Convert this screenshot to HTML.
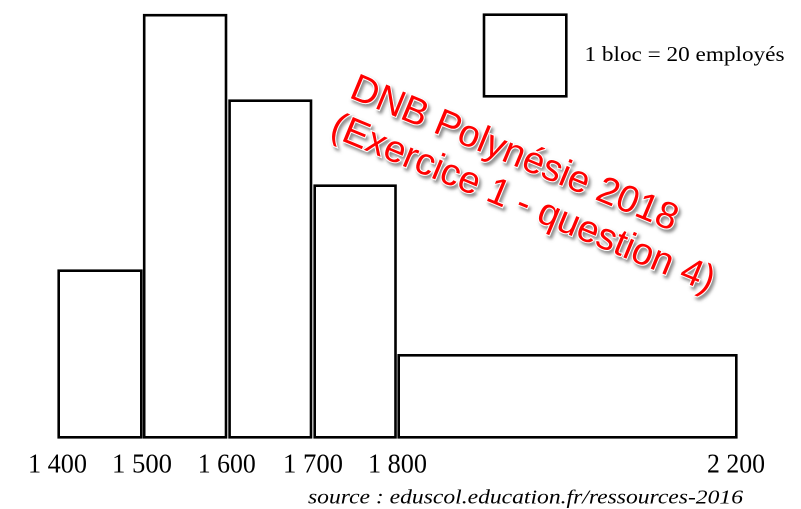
<!DOCTYPE html>
<html>
<head>
<meta charset="utf-8">
<style>
  html, body { margin: 0; padding: 0; background: #fff; }
  body { width: 801px; height: 509px; overflow: hidden; }
  svg { display: block; }
</style>
</head>
<body>
<svg width="801" height="509" viewBox="0 0 801 509" xmlns="http://www.w3.org/2000/svg">
  <defs>
    <filter id="sh" x="-10%" y="-30%" width="130%" height="170%">
      <feDropShadow dx="2" dy="3" stdDeviation="1.6" flood-color="#777" flood-opacity="0.85"/>
    </filter>
  </defs>
  <rect width="801" height="509" fill="#fff"/>
  <g fill="none" stroke="#000" stroke-width="2.6">
    <rect x="58.7" y="270.7" width="82.6" height="166.6"/>
    <rect x="144.2" y="15.2" width="81.8" height="422.1"/>
    <rect x="229.6" y="100.7" width="81.4" height="336.6"/>
    <rect x="314.7" y="185.7" width="80.8" height="251.6"/>
    <rect x="398.7" y="355.3" width="337.6" height="82"/>
    <rect x="484" y="14.7" width="82.3" height="81.6"/>
  </g>
  <text x="584.5" y="61" font-family="Liberation Serif, serif" font-size="21" textLength="200" lengthAdjust="spacingAndGlyphs" fill="#000">1 bloc = 20 employés</text>
  <g font-family="Liberation Serif, serif" font-size="27" fill="#000" text-anchor="middle">
    <text x="57.5" y="472.3" textLength="59" lengthAdjust="spacingAndGlyphs">1 400</text>
    <text x="142" y="472.3" textLength="60" lengthAdjust="spacingAndGlyphs">1 500</text>
    <text x="226.8" y="472.3" textLength="58" lengthAdjust="spacingAndGlyphs">1 600</text>
    <text x="313" y="472.3" textLength="60" lengthAdjust="spacingAndGlyphs">1 700</text>
    <text x="397.5" y="472.3" textLength="59" lengthAdjust="spacingAndGlyphs">1 800</text>
    <text x="736" y="472.3" textLength="58" lengthAdjust="spacingAndGlyphs">2 200</text>
  </g>
  <text x="308" y="503.3" font-family="Liberation Serif, serif" font-style="italic" font-size="20" textLength="435" lengthAdjust="spacingAndGlyphs" fill="#000">source : eduscol.education.fr/ressources-2016</text>
  <g font-family="Liberation Sans, Arial, sans-serif" font-size="38" fill="#ff0000" stroke="#fff" stroke-width="2" paint-order="stroke" filter="url(#sh)">
    <text transform="translate(348,97) rotate(22.5)" x="0" y="0">DNB Polynésie 2018</text>
    <text transform="translate(328.3,135.1) rotate(22.5)" x="0" y="0">(Exercice 1 - question 4)</text>
  </g>
</svg>
</body>
</html>
